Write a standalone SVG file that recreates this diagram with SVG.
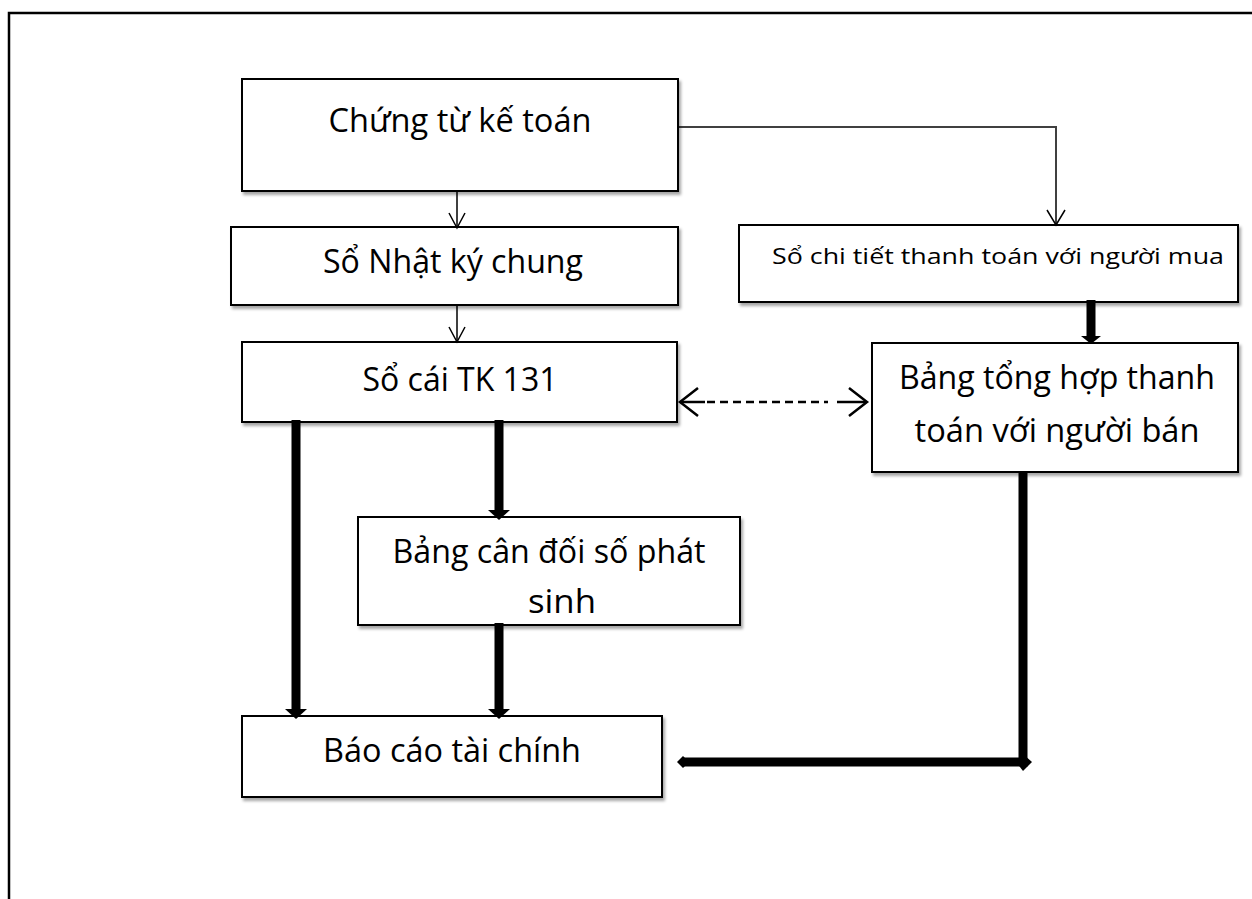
<svg xmlns="http://www.w3.org/2000/svg" width="1252" height="899" viewBox="0 0 1252 899">
<style>
.box{fill:#fff;stroke:#000;stroke-width:2;filter:url(#sh)}
.t{font-family:"Open Sans","Noto Sans",sans-serif;fill:#000;text-anchor:middle}
.thin{fill:none;stroke:#000;stroke-width:1.5}
.thick{fill:none;stroke:#000;stroke-width:9}
.open{fill:none;stroke:#000;stroke-width:1.5}
.dopen{fill:none;stroke:#000;stroke-width:2.5}
</style>
<defs>
<filter id="sh" x="-5%" y="-5%" width="115%" height="125%">
<feDropShadow dx="2" dy="3" stdDeviation="1.5" flood-color="#000" flood-opacity="0.35"/>
</filter>
</defs>
<rect x="0" y="0" width="1252" height="899" fill="#fff"/>
<path d="M9 910 V13 H1260" fill="none" stroke="#000" stroke-width="2.5"/>

<g id="n-chungtu">
<rect class="box" x="242" y="79" width="436" height="112"/>
<text class="t" x="460" y="132" font-size="32" textLength="263" lengthAdjust="spacingAndGlyphs">Chứng từ kế toán</text>
</g>
<g id="n-nhatky">
<rect class="box" x="231" y="227" width="447" height="78"/>
<text class="t" x="453" y="273" font-size="32" textLength="260" lengthAdjust="spacingAndGlyphs">Sổ Nhật ký chung</text>
</g>
<g id="n-chitiet">
<rect class="box" x="739" y="225" width="499" height="77"/>
<text class="t" x="998" y="264" font-size="21" textLength="452" lengthAdjust="spacingAndGlyphs">Sổ chi tiết thanh toán với người mua</text>
</g>
<g id="n-socai">
<rect class="box" x="242" y="342" width="435" height="80"/>
<text class="t" x="460" y="391" font-size="32" textLength="195" lengthAdjust="spacingAndGlyphs">Sổ cái TK 131</text>
</g>
<g id="n-tonghop">
<rect class="box" x="872" y="343" width="366" height="129"/>
<text class="t" x="1057" y="389" font-size="32" textLength="316" lengthAdjust="spacingAndGlyphs">Bảng tổng hợp thanh</text>
<text class="t" x="1057" y="442" font-size="32" textLength="285" lengthAdjust="spacingAndGlyphs">toán với người bán</text>
</g>
<g id="n-candoi">
<rect class="box" x="358" y="517" width="382" height="108"/>
<text class="t" x="549" y="563" font-size="32" textLength="313" lengthAdjust="spacingAndGlyphs">Bảng cân đối số phát</text>
<text class="t" x="562" y="613" font-size="32" textLength="68" lengthAdjust="spacingAndGlyphs">sinh</text>
</g>
<g id="n-baocao">
<rect class="box" x="242" y="716" width="420" height="81"/>
<text class="t" x="452" y="762" font-size="32" textLength="258" lengthAdjust="spacingAndGlyphs">Báo cáo tài chính</text>
</g>

<g id="connectors">
<path class="thin" d="M457 191 V227"/>
<path class="open" d="M449 213 L457 228 L465 213"/>
<path class="thin" d="M457 305 V342"/>
<path class="open" d="M449 327 L457 342 L465 327"/>
<path class="thin" d="M678 127 H1057"/>
<path class="thin" d="M1056 128 V225"/>
<path class="open" d="M1047 210 L1056 225 L1065 210"/>
<path d="M680 402 H705" fill="none" stroke="#000" stroke-width="2.5"/>
<path d="M707 402 H828" fill="none" stroke="#000" stroke-width="2.5" stroke-dasharray="8,5"/>
<path d="M837 402 H866" fill="none" stroke="#000" stroke-width="2.5"/>
<path class="dopen" d="M698 388 L680 402 L698 416"/>
<path class="dopen" d="M849 388 L867 402 L849 416"/>
<path class="thick" d="M1091 300 V336"/>
<path d="M1081 336 L1101 336 L1091 344 Z" fill="#000"/>
<path class="thick" d="M499 420 V510"/>
<path d="M488 510 L510 510 L499 520 Z" fill="#000"/>
<path class="thick" d="M296 420 V710"/>
<path d="M285 709 L307 709 L296 719 Z" fill="#000"/>
<path class="thick" d="M499 623 V710"/>
<path d="M488 709 L510 709 L499 719 Z" fill="#000"/>
<path class="thick" d="M1023 472 V762 H683"/>
<path d="M677 762 L683 756 L689 762 L683 768 Z" fill="#000"/>
<path d="M1016 762 L1023 754 L1032 762 L1023 771 Z" fill="#000"/>
</g>
</svg>
